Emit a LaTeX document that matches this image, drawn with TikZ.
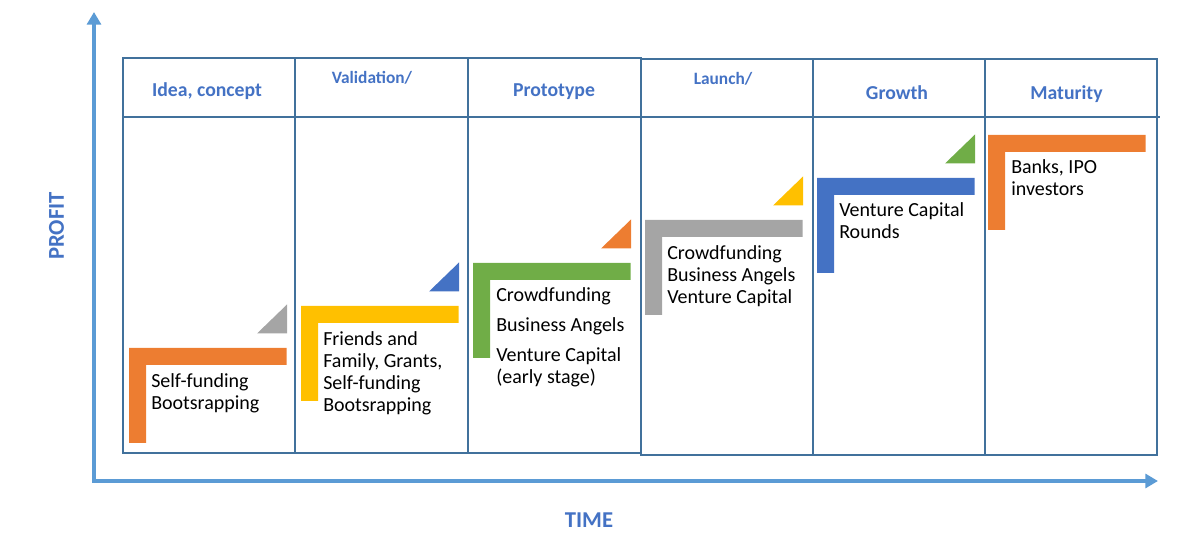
\documentclass[tikz,border=0pt]{standalone}
\usepackage{fontspec}
\setmainfont{Carlito}
\usetikzlibrary{arrows.meta}
\definecolor{axisblue}{HTML}{5B9BD5}
\definecolor{txtblue}{HTML}{4472C4}
\definecolor{gridblue}{HTML}{41719C}
\definecolor{barorange}{HTML}{ED7D31}
\definecolor{bargrey}{HTML}{A5A5A5}
\definecolor{baryellow}{HTML}{FFC000}
\definecolor{barblue}{HTML}{4472C4}
\definecolor{bargreen}{HTML}{70AD47}

\begin{document}
\begin{tikzpicture}[x=0.75pt,y=-0.75pt,>={Triangle[length=9.5pt,width=10.5pt]},
	axis/.style={line width=3.4pt,axisblue,line join=miter},
	col/.style={draw=gridblue,line width=1.5pt},
	head/.style={font=\bfseries\fontsize{14.8}{17}\selectfont,text=txtblue,anchor=base,inner sep=0pt},
	smallhead/.style={head,font=\bfseries\fontsize{13}{15}\selectfont},
	axlabel/.style={font=\bfseries\fontsize{17}{20}\selectfont,text=txtblue,inner sep=0pt},
	fund/.style={font=\fontsize{15}{16.5}\selectfont,align=left,anchor=base west,inner sep=0pt}]
	\useasboundingbox (0,0) rectangle (1179,548);

	\coordinate (origin) at (94,481);
	\coordinate (ytop) at (94,12);
	\coordinate (xend) at (1158,481);
	\draw[axis,<->] (ytop) -- (origin) -- (xend);
	\node[axlabel,rotate=90] (profit) at (56.5,226) {PROFIT};
	\node[axlabel] (time) at (589,520) {TIME};

	\foreach \i/\xa/\xb/\ya/\yb in {1/123/295/58/453,2/295/468/58/453,3/468/641/58/453,
		4/641/813/59/455,5/813/985/59/455,6/985/1157/59/455}{
			\draw[col] (\xa,\ya) rectangle (\xb,\yb);
		}
	\draw[gridblue,line width=1pt] (123,117) -- (1160,117);

	\node[head] (h1) at (207,96.7) {Idea, concept};
	\node[smallhead] (h2) at (372,84) {Validation/};
	\node[head] (h3) at (554,96.7) {Prototype};
	\node[smallhead] (h4) at (723,85) {Launch/};
	\node[head] (h5) at (897,99.3) {Growth};
	\node[head] (h6) at (1066.5,99.3) {Maturity};

	\foreach \i/\x/\y/\cbar/\ctri in {1/129/348/barorange/bargrey,2/301/306/baryellow/barblue,
		3/473/263/bargreen/barorange,4/645/220/bargrey/baryellow,5/817/178/barblue/bargreen,6/988/135/barorange/none}{
			\fill[\cbar] (\x,\y) -- ++(157.5,0) -- ++(0,17) -- ++(-140.5,0) -- ++(0,78) -- ++(-17,0) -- cycle;
			\ifnum\i<6
				\fill[\ctri] (\x+128,\y-14.5) -- ++(30,0) -- ++(0,-29) -- cycle;
			\fi
		}

	\node[fund] (t1) at (151,410) {Self-funding\\Bootsrapping};
	\node[fund] (t2) at (323,411.7) {Friends and\\Family, Grants,\\Self-funding\\Bootsrapping};
	\node[fund] (t3) at (496,384) {Crowdfunding\\[6pt]Business Angels\\[6pt]Venture Capital\\(early stage)};
	\node[fund] (t4) at (667,303.3) {Crowdfunding\\Business Angels\\Venture Capital};
	\node[fund] (t5) at (839,239) {Venture Capital\\Rounds};
	\node[fund] (t6) at (1011,195.7) {Banks, IPO\\investors};
\end{tikzpicture}
\end{document}
